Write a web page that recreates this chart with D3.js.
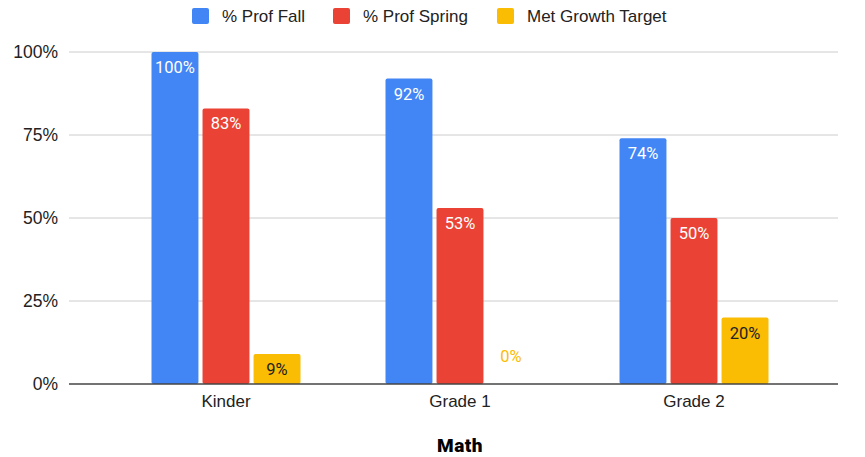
<!DOCTYPE html>
<html>
<head>
<meta charset="utf-8">
<script src="https://cdn.jsdelivr.net/npm/d3@7"></script>
<style>
  body { margin: 0; background: #fff; }
  text { font-family: "Liberation Sans", Arial, sans-serif; }
</style>
</head>
<body>
<div id="chart"></div>
<script>
// chart data
var categories = ["Kinder", "Grade 1", "Grade 2"];
var seriesNames = ["% Prof Fall", "% Prof Spring", "Met Growth Target"];
var profFall = [100, 92, 74];
var profSpring = [83, 53, 50];
var metGrowth = [9, 0, 20];
var yTicks = [0, 25, 50, 75, 100];
var colors = ["#4285F4", "#EA4335", "#FBBC04"];

var svgWidth = 865;
var svgHeight = 457;

var svg = d3.select("#chart")
  .append("svg")
  .attr("width", svgWidth)
  .attr("height", svgHeight);

var rows = categories.map(function (c, i) {
  return { cat: c, vals: [profFall[i], profSpring[i], metGrowth[i]] };
});

// scales
var yScale = d3.scaleLinear().domain([0, 100]).range([384, 52]);
var x0 = d3.scaleBand().domain(categories).range([109, 811]).padding(0);
var groupPad = (x0.bandwidth() - 149) / 2;
var x1 = d3.scaleBand().domain(d3.range(3))
  .range([groupPad, x0.bandwidth() - groupPad])
  .paddingInner(0.08);

// gridlines
svg.append("g")
  .selectAll("line")
  .data(yTicks.filter(d => d > 0))
  .enter()
  .append("line")
  .attr("x1", 69).attr("x2", 838)
  .attr("y1", d => yScale(d)).attr("y2", d => yScale(d))
  .attr("stroke", "#cccccc")
  .attr("stroke-width", 1);

// y axis labels
var leftAxis = d3.axisLeft(yScale).tickValues(yTicks).tickFormat(d => d + "%").tickSize(0).tickPadding(0);
var yAxisG = svg.append("g")
  .attr("transform", "translate(58,0)")
  .call(leftAxis);
yAxisG.select(".domain").remove();
yAxisG.selectAll("text")
  .attr("font-size", 17.5)
  .attr("fill", "#222")
  .attr("font-family", "Liberation Sans, Arial, sans-serif");

// bars
var groups = svg.append("g")
  .selectAll("g")
  .data(rows)
  .enter()
  .append("g")
  .attr("transform", d => `translate(${x0(d.cat)},0)`);

groups.selectAll("rect")
  .data(d => d.vals.map((v, i) => ({ v: v, i: i })))
  .enter()
  .append("rect")
  .filter(d => d.v > 0)
  .attr("x", d => x1(d.i))
  .attr("y", d => yScale(d.v))
  .attr("width", x1.bandwidth())
  .attr("height", d => yScale(0) - yScale(d.v))
  .attr("rx", 2)
  .attr("fill", d => colors[d.i]);

// value labels
groups.selectAll("text.val")
  .data(d => d.vals.map((v, i) => ({ v: v, i: i })))
  .enter()
  .append("text")
  .attr("class", "val")
  .attr("x", d => x1(d.i) + x1.bandwidth() / 2)
  .attr("y", d => d.v > 0 ? yScale(d.v) + 21 : yScale(0) - 22)
  .attr("text-anchor", "middle")
  .attr("font-size", 16.5)
  .style("font-family", "Roboto, sans-serif")
  .attr("fill", d => d.v === 0 ? colors[d.i] : (d.i === 2 ? "#222" : "#fff"))
  .text(d => d.v + "%");

// category labels
var bottomAxis = d3.axisBottom(x0).tickSize(0).tickPadding(11);
var xAxisG = svg.append("g")
  .attr("transform", `translate(0,${yScale(0)})`)
  .call(bottomAxis);
xAxisG.select(".domain").remove();
xAxisG.selectAll("text")
  .attr("font-size", 17)
  .attr("fill", "#222")
  .attr("font-family", "Liberation Sans, Arial, sans-serif");

// baseline
svg.append("line")
  .attr("x1", 69).attr("x2", 838)
  .attr("y1", yScale(0)).attr("y2", yScale(0))
  .attr("stroke", "#444")
  .attr("stroke-width", 1.5);

// axis title
svg.append("text")
  .attr("x", 460)
  .attr("y", 452)
  .attr("text-anchor", "middle")
  .attr("font-size", 19)
  .attr("font-weight", 900)
  .style("font-family", "Roboto, sans-serif")
  .style("letter-spacing", "0.5px")
  .attr("fill", "#000")
  .text("Math");

// legend
var legendX = [192, 333, 497];
var legend = svg.append("g")
  .selectAll("g")
  .data(seriesNames)
  .enter()
  .append("g")
  .attr("transform", (d, i) => `translate(${legendX[i]},8)`);

legend.append("rect")
  .attr("width", 17).attr("height", 16)
  .attr("rx", 2)
  .attr("fill", (d, i) => colors[i]);

legend.append("text")
  .attr("x", 30)
  .attr("y", 14)
  .attr("font-size", 17)
  .attr("fill", "#222")
  .text(d => d);
</script>
</body>
</html>
